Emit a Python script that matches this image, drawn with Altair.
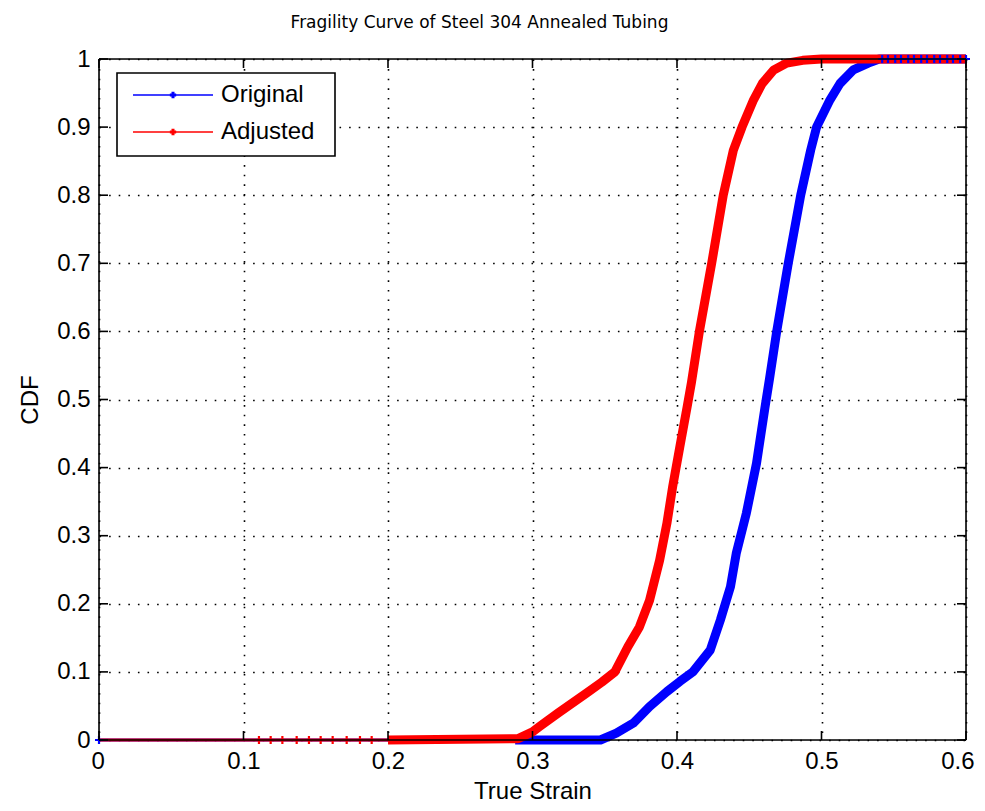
import altair as alt
import pandas as pd

TITLE = "Fragility Curve of Steel 304 Annealed Tubing"
X_TITLE = "True Strain"
Y_TITLE = "CDF"
SERIES = ["Original", "Adjusted"]
COLORS = ["#0000ff", "#ff0000"]

# Thin zero segment before each dense section
ORIG_THIN_X = [0.0, 0.288]
ORIG_THIN_Y = [0.0, 0.0]
ADJ_THIN_X = [0.0, 0.200]
ADJ_THIN_Y = [0.0, 0.0]

# Dense (thick) part of each empirical CDF
ORIG_X = [0.288, 0.347, 0.358, 0.370, 0.381, 0.393, 0.402, 0.411, 0.423, 0.430,
          0.437, 0.441, 0.448, 0.455, 0.461, 0.464, 0.469, 0.477, 0.4856, 0.4925,
          0.4966, 0.5059, 0.5128, 0.522, 0.5324, 0.540, 0.600]
ORIG_Y = [0.0, 0.0, 0.010, 0.025, 0.049, 0.071, 0.086, 0.100, 0.132, 0.176,
          0.225, 0.274, 0.333, 0.406, 0.490, 0.530, 0.600, 0.700, 0.800, 0.866,
          0.900, 0.940, 0.964, 0.984, 0.994, 1.0, 1.0]

ADJ_X = [0.200, 0.290, 0.300, 0.305, 0.318, 0.3375, 0.348, 0.357, 0.366, 0.374,
         0.381, 0.388, 0.393, 0.397, 0.402, 0.407, 0.410, 0.4155, 0.424, 0.432,
         0.439, 0.445, 0.453, 0.459, 0.467, 0.476, 0.487, 0.500, 0.600]
ADJ_Y = [0.0, 0.002, 0.012, 0.020, 0.040, 0.069, 0.085, 0.100, 0.137, 0.166,
         0.205, 0.264, 0.318, 0.372, 0.431, 0.489, 0.525, 0.600, 0.700, 0.800,
         0.866, 0.900, 0.940, 0.964, 0.984, 0.994, 0.998, 1.0, 1.0]

# Sparse '+' markers
ADJ_MARK_X = [0.1107, 0.1188, 0.1269, 0.1368, 0.1453, 0.1534, 0.1617, 0.1714, 0.1806, 0.1887]
ADJ_MARK_Y = [0.0] * len(ADJ_MARK_X)
ORIG_MARK_X = [0.0, 0.542, 0.546, 0.551, 0.555, 0.560, 0.564, 0.569, 0.573, 0.578,
               0.582, 0.587, 0.591, 0.596, 0.600]
ORIG_MARK_Y = [0.0] + [1.0] * 14

X_TICKS = [0, 0.1, 0.2, 0.3, 0.4, 0.5, 0.6]
Y_TICKS = [0, 0.1, 0.2, 0.3, 0.4, 0.5, 0.6, 0.7, 0.8, 0.9, 1.0]

W, H = 867, 681
FONT = "Liberation Sans"
TITLE_FONT = "DejaVu Sans"
TICK_LEN = 9
CROSS = "M-1,0L1,0M0,-1L0,1"

xs = alt.Scale(domain=[0, 0.6], nice=False, zero=False)
ys = alt.Scale(domain=[0, 1], nice=False, zero=False)
cs = alt.Scale(domain=SERIES, range=COLORS)

thin = pd.concat([
    pd.DataFrame({"series": SERIES[0], "x": ORIG_THIN_X, "y": ORIG_THIN_Y}),
    pd.DataFrame({"series": SERIES[1], "x": ADJ_THIN_X, "y": ADJ_THIN_Y}),
])
orig = pd.DataFrame({"series": SERIES[0], "x": ORIG_X, "y": ORIG_Y})
adj = pd.DataFrame({"series": SERIES[1], "x": ADJ_X, "y": ADJ_Y})
marks = pd.concat([
    pd.DataFrame({"series": SERIES[1], "x": ADJ_MARK_X, "y": ADJ_MARK_Y}),
    pd.DataFrame({"series": SERIES[0], "x": ORIG_MARK_X, "y": ORIG_MARK_Y}),
])

x_axis = alt.Axis(values=X_TICKS, format="~g", grid=True, gridDash=[1.6, 8],
                  gridColor="black", gridWidth=1.6, gridOpacity=1, ticks=False, tickSize=0,
                  domain=False, labelFont=FONT, labelFontSize=24, labelColor="black",
                  labelPadding=9, labelFlush=True, labelFlushOffset=8,
                  title=X_TITLE, titleFont=FONT,
                  titleFontSize=24, titleFontWeight="normal", titleColor="black",
                  titlePadding=6)
y_axis = alt.Axis(values=Y_TICKS, format="~g", grid=True, gridDash=[1.6, 8],
                  gridColor="black", gridWidth=1.6, gridOpacity=1, ticks=False, tickSize=0,
                  domain=False, labelFont=FONT, labelFontSize=24, labelColor="black",
                  labelPadding=9, labelFlush=False, title=Y_TITLE, titleFont=FONT,
                  titleFontSize=24, titleFontWeight="normal", titleColor="black",
                  titlePadding=14)

thin_layer = alt.Chart(thin).mark_line(strokeWidth=3).encode(
    x=alt.X("x:Q", scale=xs, axis=x_axis),
    y=alt.Y("y:Q", scale=ys, axis=y_axis),
    color=alt.Color("series:N", scale=cs, legend=None),
    detail="series:N",
)

orig_layer = alt.Chart(orig).mark_line(strokeWidth=9, strokeJoin="round", color=COLORS[0]).encode(
    x=alt.X("x:Q", scale=xs), y=alt.Y("y:Q", scale=ys)
)
adj_layer = alt.Chart(adj).mark_line(strokeWidth=9, strokeJoin="round", color=COLORS[1]).encode(
    x=alt.X("x:Q", scale=xs), y=alt.Y("y:Q", scale=ys)
)
mark_layer = alt.Chart(marks).mark_point(shape=CROSS, filled=False, size=64, strokeWidth=2.2,
                                         opacity=1).encode(
    x=alt.X("x:Q", scale=xs), y=alt.Y("y:Q", scale=ys),
    color=alt.Color("series:N", scale=cs, legend=None),
)

one = pd.DataFrame({"k": [0]})
frame = [
    alt.Chart(one).mark_rule(color="black", strokeWidth=1.6).encode(x=alt.datum(0, scale=xs)),
    alt.Chart(one).mark_rule(color="black", strokeWidth=1.6).encode(x=alt.datum(0.6, scale=xs)),
    alt.Chart(one).mark_rule(color="black", strokeWidth=1.6).encode(y=alt.datum(0, scale=ys)),
    alt.Chart(one).mark_rule(color="black", strokeWidth=1.6).encode(y=alt.datum(1, scale=ys)),
]

xt = pd.DataFrame({"t": X_TICKS})
yt = pd.DataFrame({"t": Y_TICKS})
ticks = [
    alt.Chart(xt).mark_rule(color="black", strokeWidth=1.6).encode(
        x=alt.X("t:Q", scale=xs), y=alt.value(H - TICK_LEN), y2=alt.value(H)),
    alt.Chart(xt).mark_rule(color="black", strokeWidth=1.6).encode(
        x=alt.X("t:Q", scale=xs), y=alt.value(0), y2=alt.value(TICK_LEN)),
    alt.Chart(yt).mark_rule(color="black", strokeWidth=1.6).encode(
        y=alt.Y("t:Q", scale=ys), x=alt.value(0), x2=alt.value(TICK_LEN)),
    alt.Chart(yt).mark_rule(color="black", strokeWidth=1.6).encode(
        y=alt.Y("t:Q", scale=ys), x=alt.value(W - TICK_LEN), x2=alt.value(W)),
]

# Legend (drawn inside the axes, top-left, like MATLAB)
legend = [
    alt.Chart(one).mark_rect(fill="white", stroke="black", strokeWidth=1.6).encode(
        x=alt.value(18), x2=alt.value(236), y=alt.value(14), y2=alt.value(97))
]
for i, (name, col) in enumerate(zip(SERIES, COLORS)):
    yy = 36 + 37 * i
    legend.append(alt.Chart(one).mark_rule(color=col, strokeWidth=1.5).encode(
        x=alt.value(34), x2=alt.value(114), y=alt.value(yy)))
    legend.append(alt.Chart(one).mark_point(shape=CROSS, filled=False, size=40, strokeWidth=3,
                                            color=col, opacity=1).encode(
        x=alt.value(74), y=alt.value(yy)))
    legend.append(alt.Chart(one).mark_text(text=name, font=FONT, fontSize=24, color="black",
                                           align="left", baseline="middle").encode(
        x=alt.value(122), y=alt.value(yy)))

chart = alt.layer(
    thin_layer, orig_layer, adj_layer, mark_layer, *frame, *ticks, *legend
).properties(
    width=W, height=H,
    title=alt.TitleParams(TITLE, font=TITLE_FONT, fontSize=17, fontWeight="normal",
                          color="black", anchor="middle", frame="group", dx=-53, offset=2,
                          baseline="alphabetic"),
    padding={"left": 91, "top": 51, "right": 10, "bottom": 63},
    autosize=alt.AutoSizeParams(type="none"),
).configure_view(stroke=None).configure(background="white")

chart.save("out.html", embed_options={"renderer": "svg", "actions": False})
